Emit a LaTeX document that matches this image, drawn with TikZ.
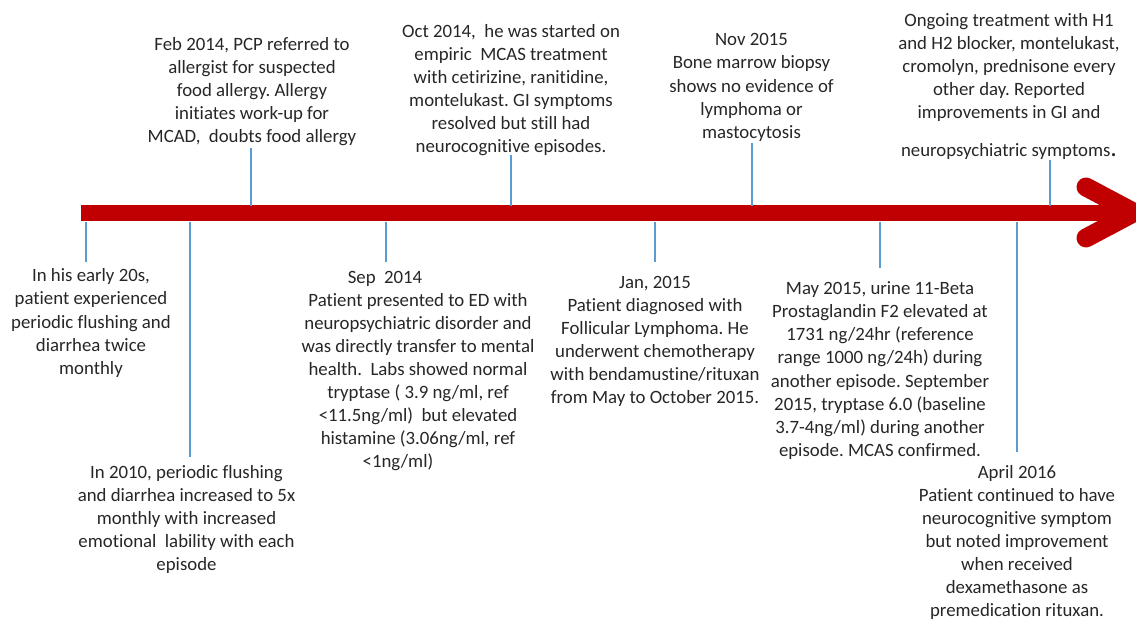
\documentclass[tikz,border=0pt]{standalone}
\usepackage{fontspec}
\setmainfont{Carlito}[Ligatures={NoCommon,NoRare}]
\frenchspacing
\definecolor{barred}{HTML}{C00000}
\definecolor{tickblue}{HTML}{5B9BD5}
\begin{document}
\begin{tikzpicture}[x=1pt,y=-1pt,
  lbl/.style={align=center,inner sep=0pt,font=\fontsize{18.8}{23.1}\selectfont\frenchspacing,text=black!85},
  tick/.style={draw=tickblue,line width=1.4pt},
  bar/.style={draw=barred,line width=16pt},
  head/.style={draw=barred,line width=19pt,line cap=round,line join=round}]
\useasboundingbox (0,0) rectangle (1136,620);
\begin{scope}
\clip (0,0) rectangle (1136,620);
% timeline bar and arrow head
\coordinate (barL) at (81,213.5);
\coordinate (barR) at (1128,213.5);
\coordinate (hu) at (1086,187);
\coordinate (ht) at (1134,212.5);
\coordinate (hl) at (1086,238);
\draw[bar] (barL) -- (barR);
\draw[head] (hu) -- (ht) -- (hl);
\end{scope}
% tick coordinates on the bar
\coordinate (tA0) at (86,222);   \coordinate (tA1) at (86,262);
\coordinate (tB0) at (190,222);  \coordinate (tB1) at (190,457);
\coordinate (tC0) at (386,222);  \coordinate (tC1) at (386,262);
\coordinate (tD0) at (655,222);  \coordinate (tD1) at (655,262);
\coordinate (tE0) at (880,222);  \coordinate (tE1) at (880,268);
\coordinate (tF0) at (1017,222); \coordinate (tF1) at (1017,452);
\coordinate (tG0) at (251,206);  \coordinate (tG1) at (251,148);
\coordinate (tH0) at (511,206);  \coordinate (tH1) at (511,155);
\coordinate (tI0) at (752,206);  \coordinate (tI1) at (752,143);
\coordinate (tJ0) at (1050,206); \coordinate (tJ1) at (1050,160);
\foreach \t in {A,B,C,D,E,F,G,H,I,J} \draw[tick] (t\t0) -- (t\t1);
% labels
\node[lbl] (A) at (91,323) {In his early 20s,\\patient experienced\\periodic flushing and\\diarrhea twice\\monthly};
\node[lbl] (B) at (186.5,519.5) {In 2010, periodic flushing\\and diarrhea increased to 5x\\monthly with increased\\emotional~ lability with each\\episode};
\node[lbl] (C) at (418,371) {Sep~ 2014\hspace*{66pt}\\Patient presented to ED with\\neuropsychiatric disorder and\\was directly transfer to mental\\health.~ Labs showed normal\\tryptase ( 3.9 ng/ml, ref\\<11.5ng/ml)~ but elevated\\histamine (3.06ng/ml, ref\\<1ng/ml)\hspace*{40pt}};
\node[lbl] (D) at (655,341.5) {Jan, 2015\\Patient diagnosed with\\Follicular Lymphoma. He\\underwent chemotherapy\\with bendamustine/rituxan\\from May to October 2015.};
\node[lbl] (E) at (880,370.5) {May 2015, urine 11-Beta\\Prostaglandin F2 elevated at\\1731 ng/24hr (reference\\range 1000 ng/24h) during\\another episode. September\\2015, tryptase 6.0 (baseline\\3.7-4ng/ml) during another\\episode. MCAS confirmed.};
\node[lbl] (F) at (1017,542.5) {April 2016\\Patient continued to have\\neurocognitive symptom\\but noted improvement\\when received\\dexamethasone as\\premedication rituxan.};
\node[lbl] (G) at (252,91.5) {Feb 2014, PCP referred to\\allergist for suspected\\food allergy. Allergy\\initiates work-up for\\MCAD,~ doubts food allergy};
\node[lbl] (H) at (511,90) {Oct 2014,~ he was started on\\empiric~ MCAS treatment\\with cetirizine, ranitidine,\\montelukast. GI symptoms\\resolved but still had\\neurocognitive episodes.};
\node[lbl] (I) at (751.5,87.5) {Nov 2015\\Bone marrow biopsy\\shows no evidence of\\lymphoma or\\mastocytosis};
\node[lbl] (J) at (1009,86.5) {Ongoing treatment with H1\\and H2 blocker, montelukast,\\cromolyn, prednisone every\\other day. Reported\\improvements in GI and\\[15pt]neuropsychiatric symptoms{\fontsize{26}{26}\selectfont .}};
\end{tikzpicture}
\end{document}
